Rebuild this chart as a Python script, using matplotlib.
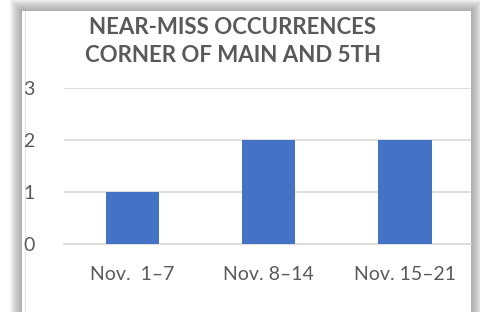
import matplotlib.pyplot as plt
from matplotlib.patches import Rectangle

weeks = ['Nov.  1–7', 'Nov. 8–14', 'Nov. 15–21']
counts = [1, 2, 2]
title_lines = ['NEAR-MISS OCCURRENCES', 'CORNER OF MAIN AND 5TH']

W, H = 481, 312
fig = plt.figure(figsize=(W / 100, H / 100), dpi=100)
fig.patch.set_facecolor('white')

# panel with a soft drop shadow (screenshot look)
px_l, px_r, px_t = 22, 471, 11
for i in range(12, 0, -1):
    fig.patches.append(Rectangle(((px_l - i) / W, -0.1), (px_r - px_l + 2 * i) / W,
                                 (H - px_t + i) / H + 0.1, transform=fig.transFigure,
                                 facecolor='#808080', edgecolor='none', alpha=0.07, zorder=0))
fig.patches.append(Rectangle((px_l / W, -0.1), (px_r - px_l) / W, (H - px_t) / H + 0.1,
                             transform=fig.transFigure, facecolor='white',
                             edgecolor='none', zorder=1))
fig.patches.append(Rectangle(((px_l + 3) / W, -0.1), 1 / W, (H - px_t) / H + 0.1,
                             transform=fig.transFigure, facecolor='#e0e0e0',
                             edgecolor='none', zorder=2))

ax = fig.add_axes([64 / W, (H - 244) / H, (px_r - 64) / W, 156 / H])
ax.set_facecolor('none')
ax.set_zorder(3)
ax.bar(range(len(weeks)), counts, width=0.39, color='#4472C4', zorder=3)
ax.set_xlim(-0.5, 2.483)
ax.set_ylim(0, 3)
ax.set_yticks([0, 1, 2, 3])
ax.yaxis.grid(True, color='#d9d9d9', linewidth=1.2)
ax.set_axisbelow(True)
for s in ax.spines.values():
    s.set_visible(False)
ax.spines['bottom'].set_visible(True)
ax.spines['bottom'].set_color('#d9d9d9')
ax.spines['bottom'].set_linewidth(1.2)
ax.set_xticks(range(len(weeks)))
ax.set_xticklabels(weeks)
ax.tick_params(axis='both', length=0, labelcolor='#595959', labelsize=14)
ax.tick_params(axis='x', pad=16)
ax.tick_params(axis='y', pad=21)
for lab in ax.get_xticklabels() + ax.get_yticklabels():
    lab.set_fontfamily('Lato')

fig.text(233 / W, (H - 28) / H, title_lines[0], ha='center', va='center',
         fontsize=16, fontweight='bold', color='#595959', family='Lato', zorder=5)
fig.text(233 / W, (H - 55) / H, title_lines[1], ha='center', va='center',
         fontsize=16, fontweight='bold', color='#595959', family='Lato', zorder=5)

fig.savefig('out.png', dpi=100)
